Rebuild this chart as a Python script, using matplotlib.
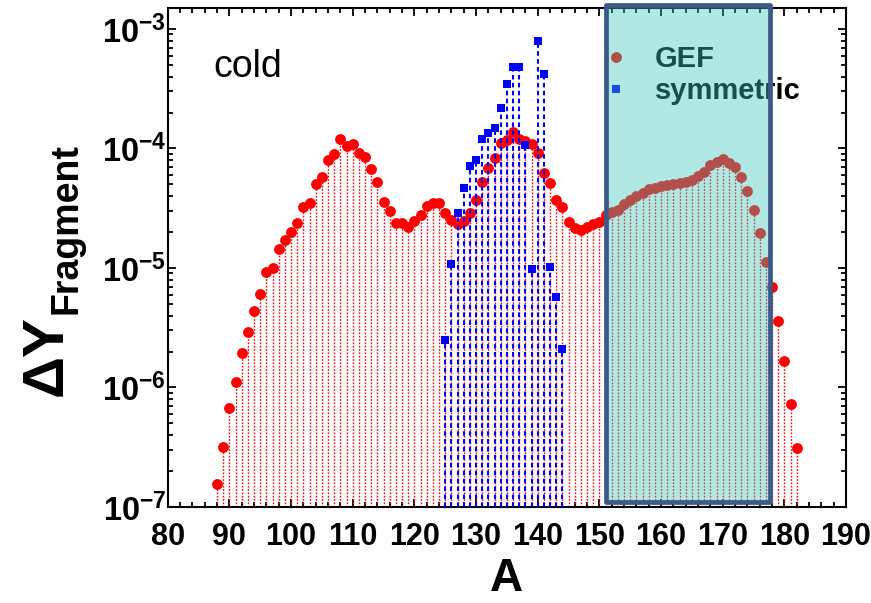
import numpy as np
import matplotlib
matplotlib.use("Agg")
import matplotlib.pyplot as plt
from matplotlib.patches import Rectangle
from matplotlib.ticker import MultipleLocator, LogLocator, FuncFormatter, NullFormatter

plt.rcParams.update({
    "font.family": ["Liberation Sans", "DejaVu Sans"],
    "mathtext.fontset": "custom",
    "mathtext.rm": "Liberation Sans",
    "mathtext.bf": "Liberation Sans:bold",
    "mathtext.it": "Liberation Sans:italic",
})

# GEF fragment yields vs. mass number
mass_gef = list(range(88, 183))
yield_gef = [
    1.55e-7, 3.2e-7, 6.8e-7, 1.12e-6, 1.95e-6, 2.93e-6, 4.4e-6, 6.1e-6, 9.2e-6, 1.0e-5,
    1.43e-5, 1.71e-5, 2.01e-5, 2.37e-5, 3.26e-5, 3.47e-5, 5.04e-5, 5.74e-5, 8.0e-5, 9.0e-5,
    1.19e-4, 1.04e-4, 1.09e-4, 9.1e-5, 8.55e-5, 6.8e-5, 5.2e-5, 3.55e-5, 2.98e-5, 2.37e-5,
    2.37e-5, 2.2e-5, 2.45e-5, 2.77e-5, 3.3e-5, 3.52e-5, 3.52e-5, 2.87e-5, 2.52e-5, 2.33e-5,
    2.46e-5, 2.88e-5, 3.7e-5, 5.2e-5, 6.83e-5, 8.28e-5, 1.12e-4, 1.18e-4, 1.38e-4, 1.19e-4,
    1.16e-4, 1.09e-4, 9.1e-5, 6.28e-5, 5.12e-5, 3.71e-5, 3.22e-5, 2.44e-5, 2.15e-5, 2.08e-5,
    2.22e-5, 2.33e-5, 2.44e-5, 2.8e-5, 2.96e-5, 3.05e-5, 3.4e-5, 3.7e-5, 4.0e-5, 4.27e-5,
    4.56e-5, 4.65e-5, 4.86e-5, 4.95e-5, 5.05e-5, 5.12e-5, 5.27e-5, 5.45e-5, 5.89e-5, 6.4e-5,
    7.28e-5, 7.77e-5, 8.1e-5, 7.6e-5, 7.04e-5, 5.74e-5, 4.43e-5, 3.05e-5, 1.97e-5, 1.13e-5,
    6.9e-6, 3.62e-6, 1.67e-6, 7.3e-7, 3.1e-7,
]

# symmetric fission component
mass_sym = list(range(125, 145))
yield_sym = [
    2.5e-6, 1.07e-5, 2.87e-5, 4.64e-5, 7.18e-5, 8.0e-5, 1.19e-4, 1.36e-4, 1.48e-4, 2.17e-4,
    3.47e-4, 4.79e-4, 4.79e-4, 1.08e-4, 9.9e-6, 7.98e-4, 4.18e-4, 1.01e-5, 5.75e-6, 2.09e-6,
]

x_ticks = [80, 90, 100, 110, 120, 130, 140, 150, 160, 170, 180, 190]
y_floor = 1e-7

W, H = 871, 603
fig = plt.figure(figsize=(W / 100, H / 100), dpi=100)
ax = fig.add_axes([167.7 / W, 1 - 507 / H, (846 - 167.7) / W, (507 - 8.3) / H])
ax.set_yscale("log")
ax.set_xlim(80, 190)
ax.set_ylim(1e-7, 1.49e-3)

# drop lines + markers
ax.vlines(mass_gef, y_floor, yield_gef, colors="#ff0000", linestyles=(0, (1.2, 1.2)),
          lw=1.0, zorder=2)
h_gef, = ax.plot(mass_gef, yield_gef, "o", color="#ff0000", ms=7.8, mew=0, zorder=3)
ax.vlines(mass_sym, y_floor, yield_sym, colors="#0000ff", linestyles=(0, (2.2, 1.6)),
          lw=1.5, zorder=4)
h_sym, = ax.plot(mass_sym, yield_sym, "s", color="#0000ff", ms=6.4, mew=0, zorder=5)

# axes styling
ax.set_xticks(x_ticks)
ax.xaxis.set_minor_locator(MultipleLocator(2))
ax.yaxis.set_major_locator(LogLocator(base=10, numticks=20))
ax.yaxis.set_minor_locator(LogLocator(base=10, subs=np.arange(2, 10), numticks=20))
ax.yaxis.set_minor_formatter(NullFormatter())
ax.yaxis.set_major_formatter(
    FuncFormatter(lambda v, _: r"$\mathbf{10^{%d}}$" % int(round(np.log10(v)))))
ax.tick_params(which="both", direction="in", top=True, right=True, width=1.3, colors="black")
ax.tick_params(which="major", length=6)
ax.tick_params(which="minor", length=3.5)
ax.tick_params(axis="x", labelsize=22, pad=10.5)
ax.tick_params(axis="y", labelsize=23.5, pad=1)
for lab in ax.get_xticklabels():
    lab.set_fontweight("bold")
for sp in ax.spines.values():
    sp.set_linewidth(1.5)

ax.set_xlabel("A", fontsize=33, fontweight="bold")
ax.xaxis.set_label_coords(0.5, (507 - 579) / (507 - 8.3))
ax.xaxis.label.set_va("center")

# y label: Delta Y with subscript
t1 = fig.text(47 / W, 1 - 396 / H, "ΔY", rotation=90, ha="center", va="bottom",
              fontsize=42, fontweight="bold")
fig.canvas.draw()
bb = t1.get_window_extent()
fig.text(66 / W, bb.y1 / H + 0.002, "Fragment", rotation=90, ha="center", va="bottom",
         fontsize=27, fontweight="bold")

fig.text(213 / W, 1 - 77 / H, "cold", fontsize=27, va="baseline", ha="left")

leg = ax.legend(handles=[h_gef, h_sym], labels=["GEF", "symmetric"], loc="upper left",
                bbox_to_anchor=(601 / W, 1 - 45 / H), bbox_transform=fig.transFigure,
                frameon=False, prop={"size": 21, "weight": "bold"}, handlelength=1.0,
                handletextpad=0.85, labelspacing=0.15, borderpad=0, borderaxespad=0)

# highlighted mass window
fig.add_artist(Rectangle((606 / W, 1 - 502 / H), (770 - 606) / W, (502 - 5) / H,
                         transform=fig.transFigure, facecolor=(60 / 255, 198 / 255, 188 / 255, 0.4),
                         edgecolor="#3b5a8a", lw=3.4, joinstyle="round", zorder=10))

fig.savefig("out.png", dpi=100)
